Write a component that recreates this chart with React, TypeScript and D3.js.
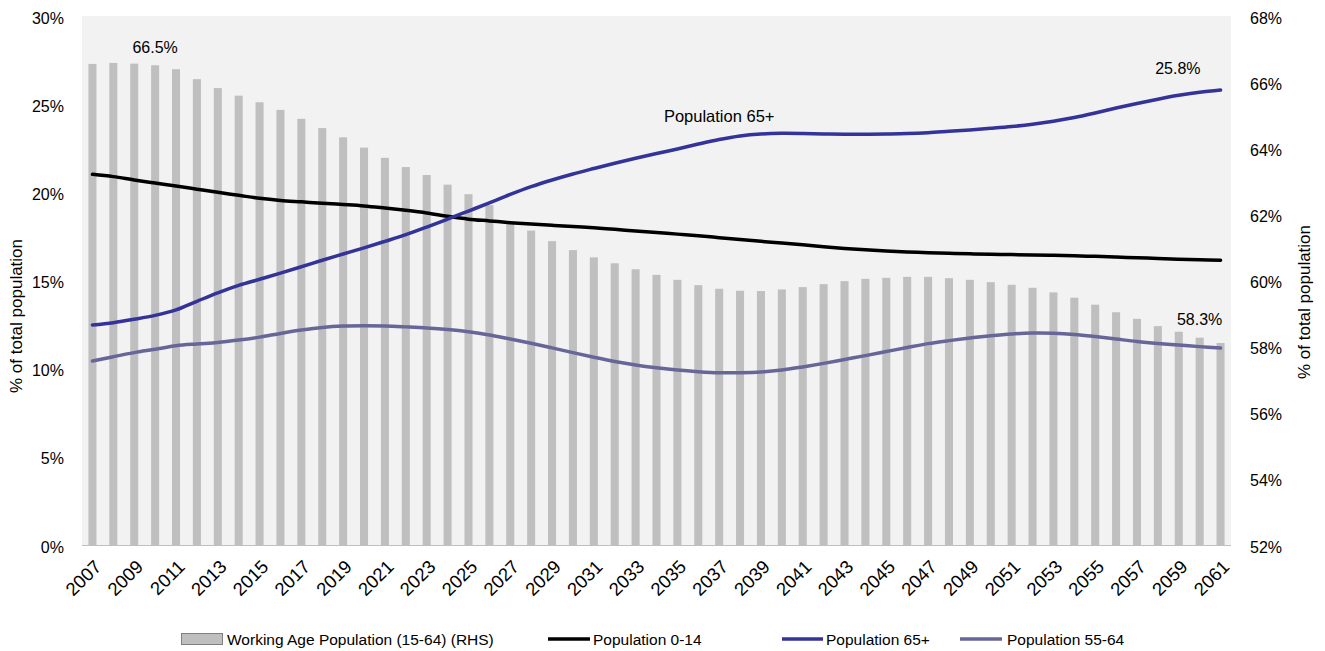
import React from "react";
import * as d3 from "d3";

const years = [
  2007, 2008, 2009, 2010, 2011, 2012, 2013, 2014, 2015, 2016, 2017, 2018, 2019, 2020,
  2021, 2022, 2023, 2024, 2025, 2026, 2027, 2028, 2029, 2030, 2031, 2032, 2033, 2034,
  2035, 2036, 2037, 2038, 2039, 2040, 2041, 2042, 2043, 2044, 2045, 2046, 2047, 2048,
  2049, 2050, 2051, 2052, 2053, 2054, 2055, 2056, 2057, 2058, 2059, 2060, 2061,
];

// Working Age Population (15-64), right axis (%)
const workingAge = [
  66.55, 66.58, 66.56, 66.51, 66.39, 66.09, 65.82, 65.59, 65.39, 65.16, 64.89, 64.61, 64.33, 64.02,
  63.71, 63.43, 63.19, 62.9, 62.61, 62.28, 61.73, 61.51, 61.19, 60.92, 60.7, 60.52, 60.34, 60.17,
  60.02, 59.86, 59.75, 59.69, 59.68, 59.73, 59.8, 59.89, 59.98, 60.05, 60.08, 60.11, 60.11, 60.07,
  60.02, 59.95, 59.87, 59.78, 59.64, 59.48, 59.27, 59.04, 58.84, 58.62, 58.45, 58.27, 58.11,
];

// Population 0-14, left axis (%)
const pop0to14 = [
  21.02, 20.89, 20.7, 20.53, 20.36, 20.18, 20.0, 19.83, 19.66, 19.54, 19.46, 19.38, 19.31, 19.23,
  19.11, 18.98, 18.83, 18.64, 18.48, 18.38, 18.28, 18.2, 18.13, 18.06, 17.99, 17.9, 17.81, 17.72,
  17.63, 17.54, 17.43, 17.32, 17.22, 17.13, 17.03, 16.92, 16.82, 16.74, 16.67, 16.62, 16.58, 16.54,
  16.51, 16.49, 16.47, 16.45, 16.43, 16.4, 16.37, 16.33, 16.29, 16.25, 16.21, 16.17, 16.15,
];

// Population 65+, left axis (%)
const pop65plus = [
  12.48, 12.61, 12.8, 13.02, 13.33, 13.82, 14.3, 14.72, 15.07, 15.42, 15.78, 16.15, 16.5, 16.85,
  17.22, 17.6, 18.03, 18.48, 18.94, 19.4, 19.88, 20.32, 20.7, 21.04, 21.35, 21.65, 21.93, 22.2,
  22.46, 22.74, 23.0, 23.2, 23.31, 23.35, 23.34, 23.31, 23.3, 23.3, 23.31, 23.33, 23.38, 23.46,
  23.54, 23.63, 23.73, 23.86, 24.03, 24.24, 24.5, 24.78, 25.04, 25.28, 25.5, 25.67, 25.8,
];

// Population 55-64, left axis (%)
const pop55to64 = [
  10.43, 10.68, 10.91, 11.1, 11.3, 11.4, 11.48, 11.62, 11.79, 12.0, 12.19, 12.34, 12.42, 12.44,
  12.42, 12.37, 12.31, 12.22, 12.09, 11.91, 11.68, 11.44, 11.18, 10.91, 10.65, 10.41, 10.21, 10.05,
  9.92, 9.83, 9.77, 9.77, 9.81, 9.92, 10.1, 10.3, 10.52, 10.74, 10.97, 11.2, 11.42, 11.59,
  11.74, 11.87, 11.97, 12.02, 12.01, 11.94, 11.82, 11.68, 11.54, 11.43, 11.34, 11.25, 11.17,
];

const leftTicks = [0, 5, 10, 15, 20, 25, 30];
const rightTicks = [52, 54, 56, 58, 60, 62, 64, 66, 68];

const legendLabels = [
  "Working Age Population (15-64) (RHS)",
  "Population 0-14",
  "Population 65+",
  "Population 55-64",
];

const FONT = "'Liberation Sans', Arial, sans-serif";
const C_BAR = "#BFBFBF";
const C_BLACK = "#000000";
const C_BLUE = "#333399";
const C_PURPLE = "#666699";

export default function App() {
  const W = 1325;
  const H = 651;
  const L = 82, R = 1231, T = 16, B = 545;

  const x = d3
    .scaleBand<number>()
    .domain(years)
    .range([L, R])
    .paddingInner(0.615)
    .paddingOuter(0.3075);
  const cx = (yr: number) => (x(yr) as number) + x.bandwidth() / 2;
  const yL = d3.scaleLinear().domain([0, 30]).range([B, T]);
  const yR = d3.scaleLinear().domain([52, 68]).range([B, T]);

  const mkLine = (vals: number[]) =>
    d3
      .line<number>()
      .x((_, i) => cx(years[i]))
      .y((d) => yL(d))
      .curve(d3.curveCatmullRom.alpha(0.5))(vals) as string;

  const i2010 = years.indexOf(2010);
  const i2060 = years.indexOf(2060);
  const i2061 = years.indexOf(2061);
  const i2037 = years.indexOf(2037);

  const xLabelYears = years.filter((y) => (y - 2007) % 2 === 0);
  const fmt = d3.format(".1f");

  return (
    <svg
      width={W}
      height={H}
      viewBox={`0 0 ${W} ${H}`}
      style={{ position: "absolute", left: 0, top: 0, background: "#fff" }}
      fontFamily={FONT}
    >
      <rect x={L} y={T} width={R - L} height={B - T} fill="#F2F2F2" />

      {years.map((yr, i) => (
        <rect
          key={yr}
          x={x(yr)}
          y={yR(workingAge[i])}
          width={x.bandwidth()}
          height={yR(52) - yR(workingAge[i])}
          fill={C_BAR}
        />
      ))}

      <line x1={L} x2={R} y1={B + 0.5} y2={B + 0.5} stroke="#BFBFBF" strokeWidth={1} />

      <path d={mkLine(pop55to64)} fill="none" stroke={C_PURPLE} strokeWidth={3.5} strokeLinecap="round" strokeLinejoin="round" />
      <path d={mkLine(pop0to14)} fill="none" stroke={C_BLACK} strokeWidth={3.5} strokeLinecap="round" strokeLinejoin="round" />
      <path d={mkLine(pop65plus)} fill="none" stroke={C_BLUE} strokeWidth={3.5} strokeLinecap="round" strokeLinejoin="round" />

      {leftTicks.map((t) => (
        <text key={"l" + t} x={64} y={yL(t) + 7.5} textAnchor="end" fontSize={16} fill="#000">
          {t}%
        </text>
      ))}
      {rightTicks.map((t) => (
        <text key={"r" + t} x={1250} y={yR(t) + 7.5} textAnchor="start" fontSize={16} fill="#000">
          {t}%
        </text>
      ))}

      {xLabelYears.map((yr) => (
        <text
          key={"x" + yr}
          transform={`translate(${cx(yr) + 10},${568}) rotate(-45)`}
          textAnchor="end"
          fontSize={18.5}
          fill="#000"
        >
          {yr}
        </text>
      ))}

      <text transform={`translate(22,316) rotate(-90)`} textAnchor="middle" fontSize={17} fill="#000">
        % of total population
      </text>
      <text transform={`translate(1310,302) rotate(-90)`} textAnchor="middle" fontSize={17} fill="#000">
        % of total population
      </text>

      <text x={cx(2010)} y={yR(workingAge[i2010]) - 12} textAnchor="middle" fontSize={16} fill="#000">
        66.5%
      </text>
      <text x={cx(2060)} y={yR(workingAge[i2060]) - 12.5} textAnchor="middle" fontSize={16} fill="#000">
        {fmt(58.3)}%
      </text>
      <text x={cx(2061) - 20} y={yL(pop65plus[i2061]) - 16} textAnchor="end" fontSize={16} fill="#000">
        {fmt(pop65plus[i2061])}%
      </text>
      <text x={cx(2037)} y={yL(pop65plus[i2037]) - 17} textAnchor="middle" fontSize={16.5} fill="#000">
        Population 65+
      </text>

      <g fontSize={15.5} fill="#000">
        <rect x={181.5} y={633.5} width={41} height={11} fill={C_BAR} stroke="#7F7F7F" strokeWidth={1} />
        <text x={227} y={645}>{legendLabels[0]}</text>
        <line x1={548} x2={590} y1={639} y2={639} stroke={C_BLACK} strokeWidth={3.5} />
        <text x={593} y={645}>{legendLabels[1]}</text>
        <line x1={782} x2={823} y1={639} y2={639} stroke={C_BLUE} strokeWidth={3.5} />
        <text x={826} y={645}>{legendLabels[2]}</text>
        <line x1={960} x2={1002} y1={639} y2={639} stroke={C_PURPLE} strokeWidth={3.5} />
        <text x={1007} y={645}>{legendLabels[3]}</text>
      </g>
    </svg>
  );
}
